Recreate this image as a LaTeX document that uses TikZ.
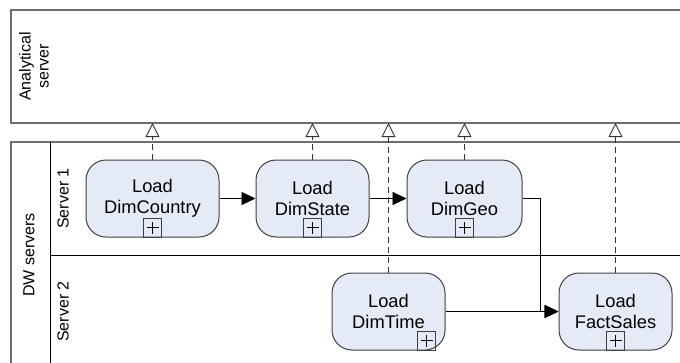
\documentclass[tikz,border=0pt]{standalone}
\usepackage{fontspec}
\setmainfont{Liberation Sans}
\usetikzlibrary{arrows.meta}
\definecolor{taskfill}{RGB}{228,235,247}
\definecolor{taskline}{RGB}{64,64,64}
\definecolor{poolline}{RGB}{110,110,110}
\begin{document}
\begin{tikzpicture}[x=1pt,y=-1pt,
  task/.style={draw=taskline, fill=taskfill, line width=1pt, rounded corners=20pt,
    minimum width=113pt, minimum height=77pt, align=center, inner sep=0pt,
    font=\fontsize{18.3}{21.5}\selectfont},
  plusbox/.style={draw=taskline, line width=0.9pt, minimum width=18pt, minimum height=19pt,
    inner sep=0pt, anchor=south,
    path picture={\draw[black, line width=0.9pt]
      ([xshift=-6pt]path picture bounding box.center) -- ([xshift=6pt]path picture bounding box.center)
      ([yshift=-6pt]path picture bounding box.center) -- ([yshift=6pt]path picture bounding box.center);}},
  pool/.style={draw=poolline, line width=1.4pt},
  lane/.style={draw=black, line width=1pt},
  lbl/.style={rotate=90, align=center, font=\fontsize{16}{18}\selectfont},
  flow/.style={draw=black, line width=0.9pt, -{Triangle[length=14pt, width=13pt]}},
  msg/.style={draw=black!80, line width=0.9pt, dash pattern=on 6pt off 4pt,
    -{Triangle[open, length=14pt, width=14pt, fill=white]}}]
\useasboundingbox (0,0) rectangle (680,362);
\clip (0,0) rectangle (680,362);
% pools
\draw[pool] (11,10) rectangle (700,123);
\draw[pool] (11,142) rectangle (700,380);
\draw[lane] (50,142) -- (50,380);
\draw[lane] (50,255.5) -- (700,255.5);
\coordinate (anab) at (0,123);
\node[lbl] (lana) at (34,66.5) {Analytical\\server};
\node[lbl] (ldw) at (29,255) {DW servers};
\node[lbl] (ls1) at (63,198.5) {Server 1};
\node[lbl] (ls2) at (63,311.5) {Server 2};
% tasks
\node[task, minimum width=133pt] (t1) at (152.5,198.5) {Load\\DimCountry};
\node[task] (t2) at (312.5,198.5) {Load\\DimState};
\node[task, minimum width=115pt] (t3) at (464.5,198.5) {Load\\DimGeo};
\node[task] (t4) at (388.5,311.5) {Load\\DimTime};
\node[task] (t5) at (615.5,311.5) {Load\\FactSales};
\node[plusbox] (p1) at (t1.south) {};
\node[plusbox] (p2) at (t2.south) {};
\node[plusbox] (p3) at (t3.south) {};
\node[plusbox] (p4) at ([xshift=38pt]t4.south) {};
\node[plusbox] (p5) at (t5.south) {};
% sequence flows
\draw[flow] (t1) -- (t2);
\draw[flow] (t2) -- (t3);
\draw[flow] (t3.east) -- ([xshift=18pt]t3.east) |- (t5.west);
\draw[flow] (t4) -- (t5);
% message flows
\draw[msg] (t1.north) -- (t1.north |- anab);
\draw[msg] (t2.north) -- (t2.north |- anab);
\draw[msg] (t3.north) -- (t3.north |- anab);
\draw[msg] (t4.north) -- (t4.north |- anab);
\draw[msg] (t5.north) -- (t5.north |- anab);
\end{tikzpicture}
\end{document}
